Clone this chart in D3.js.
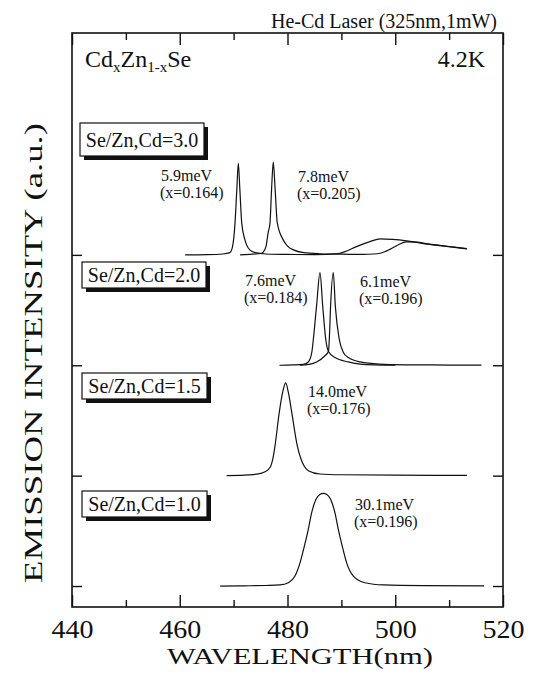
<!DOCTYPE html>
<meta charset="utf-8">
<script src="https://d3js.org/d3.v7.min.js"></script>
<style>
body { margin: 0; background: #fff; }
text { font-family: "Liberation Serif", "Times New Roman", serif; fill: #111; }
</style>
<body>
<div id="chart"></div>
<script>

// samples, top to bottom, and the vertical offset of each baseline
var samples = ["Se/Zn,Cd=3.0", "Se/Zn,Cd=2.0", "Se/Zn,Cd=1.5", "Se/Zn,Cd=1.0"];
var offsets = [3, 2, 1, 0];

// spectra: [wavelength (nm), intensity (a.u.)]
var cd30a = [[461.0,0],[465,0.002],[468,0.008],[469.3,0.02],[469.8,0.075],[470.26,0.29],[470.6,0.6],[470.87,0.83],
  [471.15,0.6],[471.5,0.29],[472.1,0.136],[473.0,0.045],[474.0,0.02],[476,0.008],[480,0.004],[485,0.003],
  [489.5,0.012],[491,0.035],[492.8,0.075],[495.3,0.12],[497.2,0.145],[499.5,0.14],[502.1,0.127],[505,0.105],
  [508.3,0.084],[511,0.068],[513.3,0.054]];
var cd30b = [[471.2,0],[473,0.005],[474.5,0.01],[475.2,0.015],[476.0,0.075],[476.4,0.2],[476.75,0.29],[477.05,0.6],
  [477.36,0.84],[477.7,0.6],[478.1,0.29],[479.2,0.136],[480,0.08],[481.1,0.045],[483,0.02],[486,0.01],[490,0.006],
  [494,0.005],[496,0.008],[497.2,0.015],[499,0.05],[500.5,0.09],[502.1,0.118],[504,0.115],[506,0.1],[508.3,0.086],
  [511,0.07],[513.3,0.056]];
var cd20a = [[478.5,0],[481,0.003],[482.9,0.008],[483.86,0.03],[484.5,0.114],[484.8,0.236],[485.4,0.54],[486.03,0.84],
  [486.53,0.54],[487.1,0.236],[487.6,0.125],[488.8,0.07],[491.3,0.03],[493.5,0.01],[496,0.004],[500,0.002]];
var cd20b = [[482.3,0],[484,0.008],[485.4,0.03],[486.9,0.084],[487.6,0.125],[487.76,0.236],[488.0,0.54],[488.5,0.84],
  [488.87,0.54],[489.6,0.236],[490.4,0.114],[491.3,0.07],[493.5,0.03],[497,0.01],[502,0.004],[510,0.002],[516,0.001]];
var cd15 = [[468.7,0],[472,0.004],[473.65,0.01],[475.0,0.02],[475.82,0.035],[476.5,0.06],[477.0,0.1],[477.35,0.17],
  [477.68,0.27],[478.48,0.575],[479.1,0.756],[479.66,0.84],[480.15,0.756],[480.78,0.575],[481.82,0.27],[482.5,0.151],
  [483.06,0.09],[483.86,0.045],[486.03,0.015],[490,0.008],[500,0.004],[513.3,0.003]];
var cd10 = [[467.5,0],[472,0.002],[476,0.005],[478.6,0.01],[480.15,0.03],[481.39,0.09],[482.32,0.21],[483.12,0.36],
  [483.86,0.514],[484.49,0.665],[485.29,0.786],[486.0,0.83],[486.65,0.84],[487.3,0.83],[488.0,0.786],[488.8,0.665],
  [489.43,0.514],[490.17,0.36],[490.98,0.21],[492.22,0.09],[494.39,0.03],[497.8,0.01],[505,0.004],[516.5,0.002]];

// which panel each spectrum belongs to
var spectra = [cd30a, cd30b, cd20a, cd20b, cd15, cd10];
var spectrumPanel = [0, 0, 1, 1, 2, 3];

// linewidth and composition labels, one per spectrum
var fwhm = ["5.9meV", "7.8meV", "7.6meV", "6.1meV", "14.0meV", "30.1meV"];
var comp = ["(x=0.164)", "(x=0.205)", "(x=0.184)", "(x=0.196)", "(x=0.176)", "(x=0.196)"];

var xTicks = [440, 460, 480, 500, 520];
var xMinor = [450, 470, 490, 510];

var W = 535, H = 677;
var plot = {left: 72, right: 503, top: 33, bottom: 607};

var svg = d3.select("#chart").append("svg")
  .attr("width", W).attr("height", H)
  .style("background", "#fff");

var x = d3.scaleLinear().domain([440, 520]).range([plot.left, plot.right]);
var y = d3.scaleLinear().domain([-0.19, 5.01]).range([plot.bottom, plot.top]);

// axes, ticks pointing inward
svg.append("g").attr("transform", "translate(0," + plot.bottom + ")")
  .call(d3.axisBottom(x).tickValues(xTicks).tickSize(-12).tickPadding(13).tickFormat(d3.format("d")))
  .call(function(g) {
    g.select(".domain").remove();
    g.selectAll("text").style("font-size", "25px").style("font-family", "Liberation Serif, serif")
      .attr("fill", "#111").attr("textLength", 42).attr("lengthAdjust", "spacingAndGlyphs");
  });
svg.append("g").attr("transform", "translate(0," + plot.bottom + ")")
  .call(d3.axisBottom(x).tickValues(xMinor).tickSize(-7).tickFormat(""))
  .call(function(g) { g.select(".domain").remove(); });
svg.append("g").attr("transform", "translate(0," + plot.top + ")")
  .call(d3.axisTop(x).tickValues(xTicks).tickSize(-12).tickFormat(""))
  .call(function(g) { g.select(".domain").remove(); });
svg.append("g").attr("transform", "translate(0," + plot.top + ")")
  .call(d3.axisTop(x).tickValues(xMinor).tickSize(-7).tickFormat(""))
  .call(function(g) { g.select(".domain").remove(); });
svg.append("g").attr("transform", "translate(" + plot.left + ",0)")
  .call(d3.axisLeft(y).tickValues(offsets).tickSize(-10).tickFormat(""))
  .call(function(g) { g.select(".domain").remove(); });
svg.append("g").attr("transform", "translate(" + plot.right + ",0)")
  .call(d3.axisRight(y).tickValues(offsets).tickSize(-10).tickFormat(""))
  .call(function(g) { g.select(".domain").remove(); });

svg.selectAll(".tick line").attr("stroke", "#111").attr("stroke-width", 1.4);

svg.append("rect")
  .attr("x", plot.left).attr("y", plot.top)
  .attr("width", plot.right - plot.left).attr("height", plot.bottom - plot.top)
  .attr("fill", "none").attr("stroke", "#111").attr("stroke-width", 1.6);

// spectra
var line = d3.line()
  .x(function(d) { return x(d[0]); })
  .y(function(d) { return y(d[1]); })
  .curve(d3.curveMonotoneX);

spectra.forEach(function(pts, i) {
  var off = offsets[spectrumPanel[i]];
  svg.append("path")
    .attr("d", line(pts.map(function(p) { return [p[0], p[1] + off]; })))
    .attr("fill", "none").attr("stroke", "#111").attr("stroke-width", 1.2);
});

// sample boxes with drop shadow
var boxes = [
  {x: 80, y: 123, w: 124, h: 33},
  {x: 82, y: 262, w: 124, h: 26},
  {x: 82, y: 373, w: 125, h: 26},
  {x: 82, y: 491, w: 125, h: 26}
];
samples.forEach(function(s, i) {
  var b = boxes[i];
  svg.append("rect").attr("x", b.x + 4).attr("y", b.y + 4).attr("width", b.w).attr("height", b.h).attr("fill", "#111");
  svg.append("rect").attr("x", b.x).attr("y", b.y).attr("width", b.w).attr("height", b.h)
    .attr("fill", "#fff").attr("stroke", "#111").attr("stroke-width", 1.2);
  svg.append("text").attr("x", b.x + b.w / 2).attr("y", b.y + b.h / 2 + 7)
    .attr("text-anchor", "middle").style("font-size", "20px").text(s);
});

// linewidth labels
var notes = [
  {x: 161, y: 181}, {x: 298, y: 182}, {x: 245, y: 286},
  {x: 360, y: 287}, {x: 308, y: 397}, {x: 355, y: 510}
];
fwhm.forEach(function(f, i) {
  var n = notes[i];
  svg.append("text").attr("x", n.x).attr("y", n.y).style("font-size", "16px").text(f);
  svg.append("text").attr("x", n.x - 1).attr("y", n.y + 17).style("font-size", "16px").text(comp[i]);
});

// titles
var t = svg.append("text").attr("x", 85).attr("y", 67).style("font-size", "24px");
t.append("tspan").text("Cd");
t.append("tspan").attr("dy", 5).style("font-size", "15px").text("x");
t.append("tspan").attr("dy", -5).text("Zn");
t.append("tspan").attr("dy", 5).style("font-size", "15px").text("1-x");
t.append("tspan").attr("dy", -5).text("Se");

svg.append("text").attr("x", 485).attr("y", 67).attr("text-anchor", "end")
  .style("font-size", "24px").text("4.2K");
svg.append("text").attr("x", 497).attr("y", 28).attr("text-anchor", "end")
  .style("font-size", "20px").text("He-Cd Laser (325nm,1mW)");

// axis titles
svg.append("text").attr("x", 300).attr("y", 664).attr("text-anchor", "middle")
  .attr("textLength", 266).attr("lengthAdjust", "spacingAndGlyphs")
  .style("font-size", "24px").text("WAVELENGTH(nm)");
svg.append("text").attr("transform", "translate(42,353) rotate(-90)").attr("text-anchor", "middle")
  .attr("textLength", 460).attr("lengthAdjust", "spacingAndGlyphs")
  .style("font-size", "26px").text("EMISSION INTENSITY (a.u.)");

</script>
